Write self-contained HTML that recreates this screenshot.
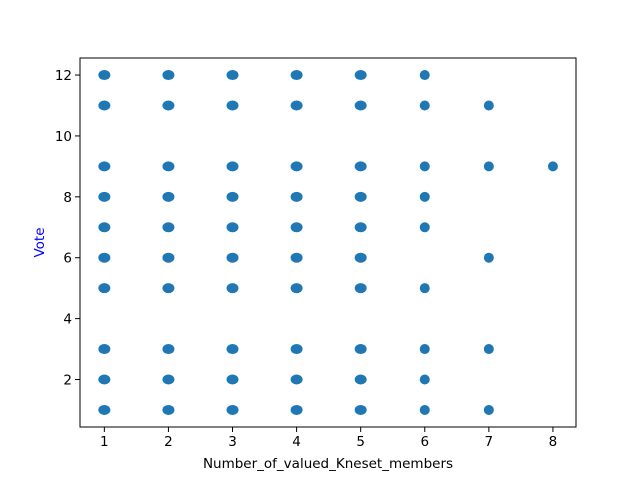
<!DOCTYPE html>
<html><head><meta charset="utf-8"><style>
body{margin:0;background:#fff;}
svg{display:block;font-family:"DejaVu Sans","Liberation Sans",sans-serif;}
</style></head><body>
<svg id="chart" width="640" height="480">
<rect x="0" y="0" width="640" height="480" fill="#fff"/>
<g id="marks"></g>
<g id="axes"></g>
</svg>
<script>
const xValues=[1,1,1,1,1,1,1,1,1,1, 2,2,2,2,2,2,2,2,2,2, 3,3,3,3,3,3,3,3,3,3, 4,4,4,4,4,4,4,4,4,4, 5,5,5,5,5,5,5,5,5,5, 6,6,6,6,6,6,6,6,6, 7,7,7,7,7, 8];
const yValues=[12,11,9,8,7,6,5,3,2,1, 12,11,9,8,7,6,5,3,2,1, 12,11,9,8,7,6,5,3,2,1, 12,11,9,8,7,6,5,3,2,1, 12,11,9,8,7,6,5,3,2,1, 12,11,9,8,7,5,3,2,1, 11,9,6,3,1, 9];
const xTicks=[1,2,3,4,5,6,7,8];
const yTicks=[2,4,6,8,10,12];
const L=80,R=576,T=58,B=427;
const xMin=0.62,xMax=8.36,yMin=0.44,yMax=12.56;
const sx=v=>L+(v-xMin)/(xMax-xMin)*(R-L);
const sy=v=>B-(v-yMin)/(yMax-yMin)*(B-T);
const NS='http://www.w3.org/2000/svg';
function mk(tag,attrs,parent){const e=document.createElementNS(NS,tag);for(const k in attrs)e.setAttribute(k,attrs[k]);parent.appendChild(e);return e;}
const marks=document.getElementById('marks'),axes=document.getElementById('axes');
for(let i=0;i<xValues.length;i++){
  const c=mk('ellipse',{cx:sx(xValues[i]),cy:sy(yValues[i]),rx:xValues[i]<=5?6:5,ry:5,fill:'#1f77b4'},marks);
  
  
}
const frame=mk('rect',{x:L,y:T,width:R-L,height:B-T,fill:'none',stroke:'#000','stroke-width':1},axes);


xTicks.forEach(t=>{
  const x=sx(t);
  mk('line',{x1:x,x2:x,y1:B,y2:B+5,stroke:'#000'},axes);
  const tx=mk('text',{x:x,y:B+19,'text-anchor':'middle','font-size':'13.5'},axes);
  tx.textContent=t;
  
  
});
yTicks.forEach(t=>{
  const y=sy(t);
  mk('line',{x1:L-5,x2:L,y1:y,y2:y,stroke:'#000'},axes);
  const tx=mk('text',{x:L-8,y:y+5,'text-anchor':'end','font-size':'13.5'},axes);
  tx.textContent=t;
  
  
});
const xl=mk('text',{x:(L+R)/2,y:468,'text-anchor':'middle','font-size':'13.5'},axes);
xl.textContent='Number_of_valued_Kneset_members';


const yl=mk('text',{x:0,y:0,'text-anchor':'middle','font-size':'13.5',fill:'blue',transform:'translate(44,'+((T+B)/2)+') rotate(-90)'},axes);
yl.textContent='Vote';


</script>
</body></html>
